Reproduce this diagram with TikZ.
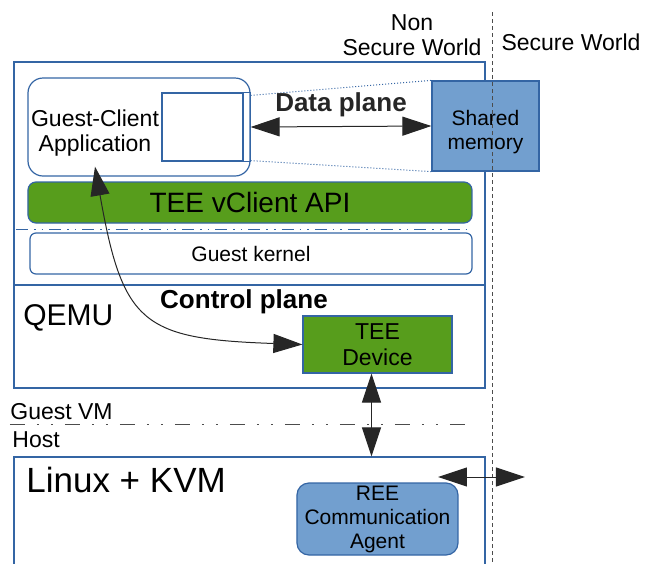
\documentclass[tikz,border=0pt]{standalone}
\usepackage{fontspec}
\setmainfont{Liberation Sans}
\usepackage{xcolor}
\usepackage{tikz}
\usetikzlibrary{arrows.meta,positioning}
\definecolor{lineblue}{HTML}{3465A4}
\definecolor{fillblue}{HTML}{729FCF}
\definecolor{fillgreen}{HTML}{579D1C}
\newcommand{\fs}[2]{\fontsize{#1}{#2}\selectfont}
\tikzset{frame/.style={draw=lineblue,line width=0.6pt,inner sep=0pt,align=center}}
\tikzset{bluebox/.style={frame,fill=fillblue}}
\tikzset{greenbox/.style={frame,fill=fillgreen}}
\tikzset{txt/.style={inner sep=0pt,align=center}}
\tikzset{conn/.style={<->,line width=0.5pt,black!85}}

\begin{document}
\begin{tikzpicture}[x=0.5pt,y=-0.5pt,>={Triangle[length=14.5pt,width=9.5pt]}]
    \useasboundingbox (0,0) rectangle (645,564);

    \node[frame,minimum width=235.5pt,minimum height=163pt] (vm)at (249.5,225) {};
    \draw [lineblue,line width=0.6pt] (vm.west |- 0,285) -- (vm.east |- 0,285);
    \node[frame,minimum width=235.5pt,minimum height=63pt] (host)at (249.5,520) {};

    \node[frame,rounded corners=7.5pt,minimum width=111pt,minimum height=49pt] (app)at (139,127) {};
    \node[txt,font=\fs{11.5}{12.5}] (apptxt)at (95,133) {Guest-Client\\Application};
    \node[frame,minimum width=40.5pt,minimum height=34pt] (win)at (202.5,127) {};
    \node[bluebox,minimum width=53.5pt,minimum height=45pt,font=\fs{10.5}{12}] (shm)at (485.5,126) {\rule{0pt}{14pt}Shared\\memory};
    \node[greenbox,rounded corners=4pt,minimum width=222pt,minimum height=20.5pt,font=\fs{14}{16}] (api)at (250,202.5) {TEE vClient API};
    \node[frame,rounded corners=3pt,minimum width=221pt,minimum height=20.5pt,font=\fs{10.5}{12}] (kern)at (251,253.5) {Guest kernel};
    \node[greenbox,minimum width=74.5pt,minimum height=28.5pt,font=\fs{11.5}{13}] (dev)at (377.5,344.5) {TEE\\Device};
    \node[bluebox,rounded corners=6pt,minimum width=80.5pt,minimum height=36pt,font=\fs{10.5}{12}] (agent)at (377.5,519) {REE\\Communication\\Agent};

    \node[txt,font=\fs{15}{17},anchor=west] (qemu)at (23,318) {QEMU};
    \node[txt,font=\fs{17.5}{20},anchor=west] (kvm)at (26,480) {Linux + KVM};
    \node[txt,font=\bfseries\fs{13}{15}] (ctl)at (244,302) {Control plane};
    \node[txt,font=\fs{11.5}{13},anchor=west] (gvm)at (10,412) {Guest VM};
    \node[txt,font=\fs{11.5}{13},anchor=west] (hst)at (12,440) {Host};
    \node[txt,font=\fs{11.5}{12.5}] (nsw)at (412,35) {Non\\Secure World};
    \node[txt,font=\fs{11.5}{13}] (sw)at (571,42) {Secure World};

    \coordinate (wtop) at ([yshift=-1.5pt]win.north -| app.east);
    \coordinate (wbot) at ([yshift=0.5pt]win.south -| app.east);
    \coordinate (wmid) at (win.east -| app.east);
    \coordinate (vtop) at ([xshift=-3pt]dev.south);
    \coordinate (hl) at (438,477);
    \coordinate (hr) at (525,477);
    \coordinate (stop) at (492,12);
    \coordinate (sbot) at (492,566);

    % separators
    \draw [lineblue,dash pattern=on 6pt off 3pt on 0.8pt off 3pt on 0.8pt off 3pt] (16,229) -- (472,229);
    \draw [black!70,dash pattern=on 7.5pt off 6pt on 1pt off 6pt on 1pt off 6pt] (10,424) -- (475,424);
    \draw [black!70,dash pattern=on 2pt off 1.5pt] (stop) -- (sbot);

    \draw [lineblue,line width=0.5pt] (win.north east) -- (win.north east -| app.east) -- (win.south east -| app.east) -- (win.south east);
    \draw [lineblue,densely dotted,line width=0.5pt] (wtop) -- (shm.north west);
    \draw [lineblue,densely dotted,line width=0.5pt] (wbot) -- (shm.south west);

    \draw [conn] (wmid) to node[txt,above=4.5pt,font=\bfseries\fs{13}{15}]{Data plane} (shm.west);
    \draw [conn] ([yshift=-5pt]apptxt.south) to [out=-80,in=178,looseness=1.5] (dev.west);
    \draw [conn] (vtop) -- (vtop |- host.north);
    \draw [conn] (hl) -- (hr);
\end{tikzpicture}
\end{document}
